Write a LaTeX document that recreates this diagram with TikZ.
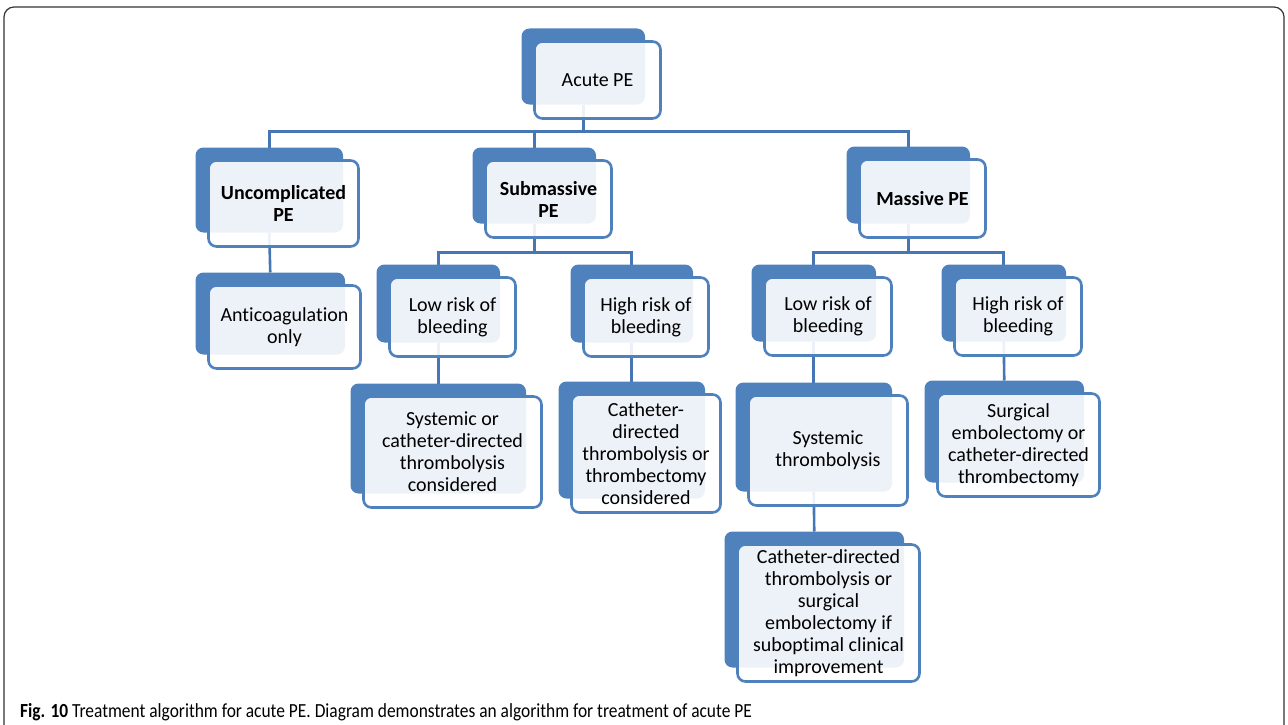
\documentclass[tikz,border=0pt]{standalone}
\usepackage{fontspec}
\usepackage{graphicx}
\setmainfont{Carlito}[Ligatures=NoCommon]
\usetikzlibrary{fit}
\definecolor{peblue}{HTML}{4F81BD}
\definecolor{peline}{HTML}{4677B4}
\tikzstyle{front} = [rectangle, rounded corners=8pt, draw=peblue, line width=2.6pt, fill=white, fill opacity=0.9, text opacity=1, align=center, inner sep=0pt, outer sep=0pt, font=\fontsize{20}{22}\selectfont]
\tikzstyle{head} = [front, font=\fontsize{20}{22}\selectfont\bfseries]
\tikzstyle{back} = [rectangle, rounded corners=8pt, fill=peblue, inner sep=0pt, outer sep=0pt]
\tikzstyle{conn} = [draw=peline, line width=2.6pt]
\tikzstyle{frame} = [draw=black!80, line width=1.2pt, rounded corners=10pt]
\pgfdeclarelayer{lines}
\pgfdeclarelayer{boxes}
\pgfsetlayers{lines,boxes,main}

\begin{document}
\begin{tikzpicture}[x=1pt, y=-1pt]
        \useasboundingbox (0,0) rectangle (1288,725);
        \draw[frame] (4,725) -- (4,7) -- (1284,7) -- (1284,725);

        \node[front, minimum width=126pt, minimum height=77pt] (acute) at (597.5,80) {Acute PE};

        \node[head, minimum width=150pt, minimum height=86pt] (unc) at (283.5,203.5) {Uncomplicated\\PE};
        \node[head, minimum width=126pt, minimum height=77pt] (sub) at (548.5,199) {Submassive\\PE};
        \node[head, minimum width=126pt, minimum height=78pt] (mass) at (922.5,198.5) {Massive PE};

        \node[front, minimum width=152pt, minimum height=83pt] (anti) at (284.5,327) {Anticoagulation\\only};
        \node[front, minimum width=126pt, minimum height=79pt] (lowS) at (452.5,317) {Low risk of\\bleeding};
        \node[front, minimum width=125pt, minimum height=79pt] (highS) at (646,317) {High risk of\\bleeding};
        \node[front, minimum width=127pt, minimum height=78pt] (lowM) at (828,316.5) {Low risk of\\bleeding};
        \node[front, minimum width=127pt, minimum height=78pt] (highM) at (1018,316.5) {High risk of\\bleeding};

        \node[front, minimum width=178pt, minimum height=111pt] (sysS) at (452.5,452) {Systemic or\\catheter-directed\\thrombolysis\\considered};
        \node[front, minimum width=149pt, minimum height=118pt] (cathS) at (646,453.5) {Catheter-\\directed\\thrombolysis or\\thrombectomy\\considered};
        \node[front, minimum width=159pt, minimum height=110pt] (sysM) at (828,450.5) {Systemic\\thrombolysis};
        \node[front, minimum width=162pt, minimum height=103pt] (surgM) at (1018.5,445) {Surgical\\embolectomy or\\catheter-directed\\thrombectomy};
        \node[front, minimum width=182pt, minimum height=137pt] (cathM) at (828.5,613) {Catheter-directed\\thrombolysis or\\surgical\\embolectomy if\\suboptimal clinical\\improvement};

        \begin{pgfonlayer}{boxes}
        \foreach \n in {acute,unc,sub,mass,anti,lowS,highS,lowM,highM,sysS,cathS,sysM,surgM,cathM}
        {\node[back, fit={([shift={(-13,-13)}]\n.north west) ([shift={(-15.5,-14)}]\n.south east)}] (\n B) {};}
        \end{pgfonlayer}

        \begin{pgfonlayer}{lines}
        \draw[conn] (acuteB.south) -- ++(0,27) coordinate (j0);
        \draw[conn] (uncB.north) |- (j0) -| (massB.north);
        \draw[conn] (subB.north) -- (subB.north |- j0);
        \draw[conn] (uncB.south) -- (antiB.north);

        \draw[conn] (subB.south) -- ++(0,29) coordinate (j1);
        \draw[conn] (lowSB.north) |- (j1) -| (highSB.north);
        \draw[conn] (massB.south) -- ++(0,29) coordinate (j2);
        \draw[conn] (lowMB.north) |- (j2) -| (highMB.north);

        \draw[conn] (lowSB.south) -- (sysSB.north);
        \draw[conn] (highSB.south) -- (cathSB.north);
        \draw[conn] (lowMB.south) -- (sysMB.north);
        \draw[conn] (highMB.south) -- (surgMB.north);
        \draw[conn] (sysMB.south) -- (cathMB.north);
        \end{pgfonlayer}

        \node[anchor=base west, font=\fontsize{20}{22}\selectfont, inner sep=0pt] (caption) at (20,717) {\scalebox{0.87}[1]{\textbf{Fig. 10} Treatment algorithm for acute PE. Diagram demonstrates an algorithm for treatment of acute PE}};
\end{tikzpicture}
\end{document}
